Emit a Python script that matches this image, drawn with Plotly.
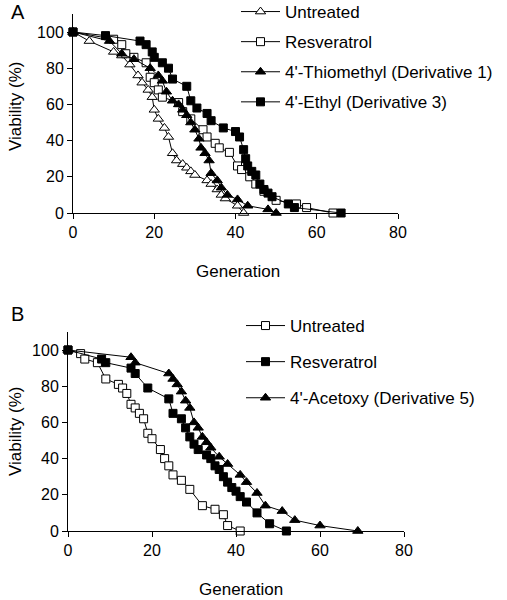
import plotly.graph_objects as go

# ---------------- Panel A data ----------------
a_untreated_x = [0, 4, 10, 12, 14, 16, 17, 18.5, 19.5, 20, 21, 22.5, 23.5, 24.5, 25.5, 27, 28, 29, 30, 33, 34, 35.5, 36.5, 37.5, 40.5, 42]
a_untreated_y = [100, 95, 89, 87, 82, 76, 72, 68, 64, 57, 52, 47, 42, 33, 29, 27, 25, 23, 21, 18, 16, 13, 10, 8, 4, 0]

a_resv_x = [0, 10, 12, 13, 15, 18, 19, 20, 21, 22, 26, 27, 29, 32, 33, 35, 36, 38.5, 40.5, 41.5, 43.5, 45, 47, 50, 55, 57.5, 64]
a_resv_y = [100, 96, 93, 88, 86, 83, 75, 72, 68, 64, 61, 56, 52, 46, 42, 38.5, 36, 33.5, 26, 24, 20, 16, 12, 7, 5, 3, 0]

a_thio_x = [0, 9, 12, 15, 19, 21, 22, 23, 24.5, 26, 27, 28, 29, 30, 31, 31.5, 32.5, 33.5, 34, 35.5, 36.5, 38, 40.5, 43, 48, 50]
a_thio_y = [100, 95, 88, 85, 80, 76, 73, 67, 62, 60, 57, 54, 50, 46, 41, 36, 33, 29, 22, 18, 14, 10, 7.5, 4, 2, 0]

a_ethyl_x = [0, 8, 16.5, 18, 19.5, 20, 22, 23.5, 24.5, 28, 29, 30.5, 33, 34, 37, 40, 41, 42, 42.5, 43, 44, 45, 46, 47, 48, 49, 53, 54.5, 66]
a_ethyl_y = [100, 98, 95, 93, 89, 86, 83, 80, 74, 70, 62, 58, 55, 51, 47, 45, 42, 35, 30, 26, 23, 21, 16, 13, 11, 9, 5, 3, 0]

# ---------------- Panel B data ----------------
b_untreated_x = [0, 3, 4, 7, 9, 12, 13, 14, 15, 16, 17, 18, 19, 20, 22, 23, 24, 25, 27, 29, 32, 35, 37, 38, 41]
b_untreated_y = [100, 98, 95, 93, 84, 81, 79, 76, 70, 68, 65, 62, 54, 51, 45, 40, 36, 31, 28, 23, 14, 12, 9, 3, 0]

b_resv_x = [0, 8, 9, 15, 16, 19, 24, 25, 27, 28, 29, 30, 31, 33, 34, 35, 36, 37, 38, 39, 40, 41, 42.5, 45, 48, 52]
b_resv_y = [100, 95, 93, 90, 87, 79, 73, 65, 62, 57, 52, 48, 45, 42, 40, 36, 34, 30, 27, 24, 22, 19, 16, 10, 4, 0]

b_acet_x = [0, 15, 16, 24, 25, 26, 27, 28, 29, 30, 31, 32, 33, 34, 36, 38, 41, 42.5, 45, 47, 51, 54, 60, 69]
b_acet_y = [100, 96, 93, 87, 84, 81, 77, 72, 68, 60, 57, 52, 49, 46, 41, 37, 31, 27, 21, 14, 11, 6, 3, 0]

x_ticks = [0, 20, 40, 60, 80]
y_ticks = [0, 20, 40, 60, 80, 100]

FONT = "Liberation Sans, Arial, sans-serif"
W, H = 507, 600

fig = go.Figure()

def add(x, y, name, symbol, filled, xa, ya, legend):
    fig.add_trace(go.Scatter(
        x=x, y=y, name=name, mode="lines+markers",
        line=dict(color="black", width=1),
        marker=dict(symbol=symbol, size=9 if "triangle" in symbol else 8,
                    color="black" if filled else "white",
                    line=dict(color="black", width=1)),
        xaxis=xa, yaxis=ya, legend=legend, legendgroup=name + legend,
        cliponaxis=False,
    ))

add(a_untreated_x, a_untreated_y, "Untreated", "triangle-up", False, "x", "y", "legend")
add(a_resv_x, a_resv_y, "Resveratrol", "square", False, "x", "y", "legend")
add(a_thio_x, a_thio_y, "4'-Thiomethyl (Derivative 1)", "triangle-up", True, "x", "y", "legend")
add(a_ethyl_x, a_ethyl_y, "4'-Ethyl (Derivative 3)", "square", True, "x", "y", "legend")

add(b_untreated_x, b_untreated_y, "Untreated", "square", False, "x2", "y2", "legend2")
add(b_resv_x, b_resv_y, "Resveratrol", "square", True, "x2", "y2", "legend2")
add(b_acet_x, b_acet_y, "4'-Acetoxy (Derivative 5)", "triangle-up", True, "x2", "y2", "legend2")

def px_x(p):
    return p / W

def px_y(p):
    return 1 - p / H

axis_common = dict(showline=True, linecolor="black", linewidth=1, ticks="outside",
                   ticklen=5, tickcolor="black", tickwidth=1, showgrid=False, zeroline=False,
                   tickfont=dict(family=FONT, size=16, color="black"))

fig.update_layout(
    xaxis=dict(domain=[px_x(73), px_x(398)], range=[0, 80], tickvals=x_ticks, anchor="y", **axis_common),
    yaxis=dict(domain=[px_y(213), px_y(213 - 110 * 1.81)], range=[0, 110], tickvals=y_ticks, anchor="x", **axis_common),
    xaxis2=dict(domain=[px_x(68), px_x(404)], range=[0, 80], tickvals=x_ticks, anchor="y2", **axis_common),
    yaxis2=dict(domain=[px_y(531), px_y(531 - 110 * 1.81)], range=[0, 110], tickvals=y_ticks, anchor="x2", **axis_common),
)

fig.update_layout(
    width=W, height=H,
    margin=dict(l=0, r=0, t=0, b=0, autoexpand=False),
    paper_bgcolor="white", plot_bgcolor="white",
    font=dict(family=FONT, color="black"),
    legend=dict(x=px_x(236), y=px_y(-6), xanchor="left", yanchor="top",
                font=dict(family=FONT, size=17, color="black"), tracegroupgap=5,
                bgcolor="rgba(0,0,0,0)", itemwidth=39),
    legend2=dict(x=px_x(241), y=px_y(308), xanchor="left", yanchor="top",
                 font=dict(family=FONT, size=17, color="black"), tracegroupgap=11,
                 bgcolor="rgba(0,0,0,0)", itemwidth=39),
    showlegend=True,
)

annots = [
    dict(text="A", x=px_x(18), y=px_y(12)),
    dict(text="B", x=px_x(17), y=px_y(314)),
    dict(text="Viability (%)", x=px_x(15), y=px_y(107), textangle=-90),
    dict(text="Viability (%)", x=px_x(15), y=px_y(432), textangle=-90),
    dict(text="Generation", x=px_x(238), y=px_y(271)),
    dict(text="Generation", x=px_x(241), y=px_y(589)),
]
for a in annots:
    size = 20 if a["text"] in ("A", "B") else 17
    fig.add_annotation(xref="paper", yref="paper", showarrow=False, xanchor="center", yanchor="middle",
                       font=dict(family=FONT, size=size, color="black"), **a)

fig.write_html("out.html", config={"displayModeBar": False},
               post_script="document.body.style.margin='0';document.body.style.overflow='hidden';")
